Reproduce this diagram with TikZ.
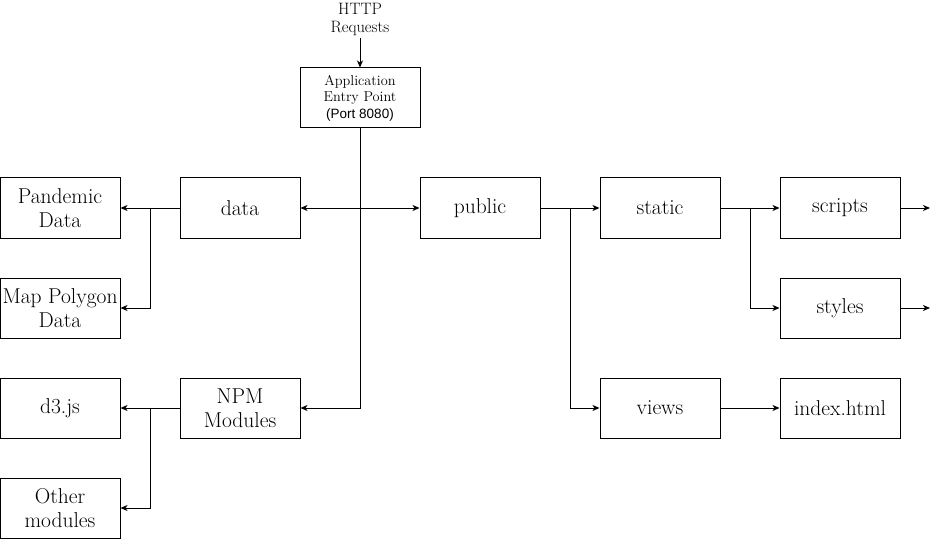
\documentclass[tikz,border=0pt]{standalone}
\usepackage{fontspec}
\newfontfamily\arialf{Liberation Sans}
\usetikzlibrary{arrows.meta}
\tikzset{
  box/.style={draw, line width=1pt, minimum width=120pt, minimum height=60pt, inner sep=0pt, align=center, font=\fontsize{21.5}{24}\selectfont},
  conn/.style={line width=1pt},
  arr/.style={conn, -{Stealth[length=7pt,width=6pt,inset=2pt]}},
  darr/.style={conn, {Stealth[length=7pt,width=6pt,inset=2pt]}-{Stealth[length=7pt,width=6pt,inset=2pt]}}
}
\begin{document}
\begin{tikzpicture}[x=1pt,y=-1pt]
\useasboundingbox (0,0) rectangle (939,540);
\node[box, font=\fontsize{14.3}{16.5}\selectfont] (entry) at (360,98) {Application\\Entry Point\\{\arialf\fontsize{13.5}{16.5}\selectfont(Port 8080)}};
\node[align=center, font=\fontsize{16.5}{18}\selectfont, inner sep=0pt] (http) at (360,19) {HTTP\\Requests};
\coordinate (httpb) at (360,38);
\node[box] (pand) at (60,208) {Pandemic\\Data};
\node[box] (map) at (60,308) {Map Polygon\\Data};
\node[box] (d3) at (60,408) {d3.js};
\node[box] (other) at (60,508) {Other\\modules};
\node[box] (data) at (240,208) {data};
\node[box] (npm) at (240,408) {NPM\\Modules};
\node[box] (public) at (480,208) {public};
\node[box] (static) at (660,208) {static};
\node[box] (views) at (660,408) {views};
\node[box] (scripts) at (840,208) {scripts};
\node[box] (styles) at (840,308) {styles};
\node[box] (index) at (840,408) {index.html};
\coordinate (hub) at (360,208);
\coordinate (scr) at (930,208);
\coordinate (sty) at (930,308);

\draw[arr] (httpb) -- (entry.north);
\draw[conn] (entry.south) -- (hub);
\draw[darr] (data.east) -- (public.west);
\draw[arr] (hub) |- (npm.east);

\draw[arr] (data.west) -- (pand.east);
\draw[arr] (150,208) |- (map.east);
\draw[arr] (npm.west) -- (d3.east);
\draw[arr] (150,408) |- (other.east);

\draw[arr] (public.east) -- (static.west);
\draw[arr] (570,208) |- (views.west);
\draw[arr] (static.east) -- (scripts.west);
\draw[arr] (750,208) |- (styles.west);
\draw[arr] (views.east) -- (index.west);
\draw[arr] (scripts.east) -- (scr);
\draw[arr] (styles.east) -- (sty);
\end{tikzpicture}
\end{document}
